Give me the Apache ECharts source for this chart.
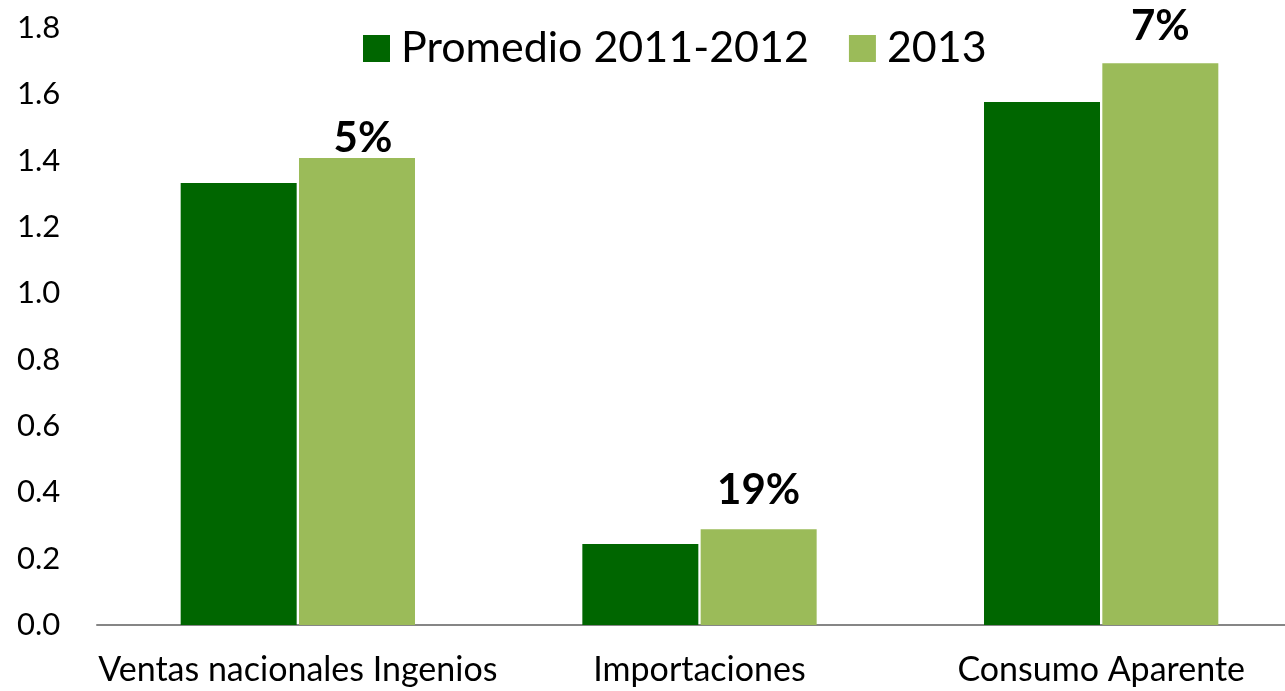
<!DOCTYPE html>
<html>
<head>
<meta charset="utf-8">
<script src="https://cdn.jsdelivr.net/npm/echarts@6/dist/echarts.min.js"></script>
<style>
  html, body { margin: 0; padding: 0; background: #fff; }
  #chart { width: 1285px; height: 691px; }
</style>
</head>
<body>
<div id="chart"></div>
<script>
// categorias y valores (millones de toneladas)
var categorias = ["Ventas nacionales Ingenios", "Importaciones", "Consumo Aparente"];
var promedio = [1.333, 0.244, 1.577];
var anio2013 = [1.408, 0.289, 1.694];
var variacion = ["5%", "19%", "7%"];
var yTicks = [0, 0.2, 0.4, 0.6, 0.8, 1.0, 1.2, 1.4, 1.6, 1.8];

var fuente = "Lato";
// distancia de la etiqueta sobre la barra
var labelDist = [-1, 18, 16];
var labelOffX = [6, 0, 0];

var datos2013 = anio2013.map(function (v, i) {
  return {
    value: v,
    label: {
      distance: labelDist[i],
      offset: [labelOffX[i], 0],
      formatter: variacion[i]
    }
  };
});

var myChart = echarts.init(document.getElementById("chart"));
myChart.setOption({
  animation: false,
  textStyle: { fontFamily: fuente },
  legend: {
    data: ["Promedio 2011-2012", "2013"],
    left: 358,
    top: 22,
    itemWidth: 27,
    itemHeight: 27,
    itemGap: 40,
    icon: "rect",
    textStyle: {
      fontFamily: fuente,
      fontSize: 43,
      color: "#000",
      padding: [0, 0, 0, 6]
    }
  },
  grid: {
    left: 97,
    right: -17,
    top: 28,
    bottom: 66,
    containLabel: false,
    outerBoundsMode: "none"
  },
  xAxis: {
    type: "category",
    data: categorias,
    axisLine: { lineStyle: { color: "#868686", width: 2 } },
    axisTick: { show: false },
    axisLabel: {
      interval: 0,
      fontFamily: fuente,
      fontSize: 34,
      color: "#000",
      margin: 28
    }
  },
  yAxis: {
    type: "value",
    min: yTicks[0],
    max: yTicks[yTicks.length - 1],
    interval: 0.2,
    axisLine: { show: false },
    axisTick: { show: false },
    splitLine: { show: false },
    axisLabel: {
      fontFamily: fuente,
      fontSize: 31,
      color: "#000",
      align: "left",
      margin: 80,
      formatter: function (v) { return v.toFixed(1); }
    }
  },
  series: [
    {
      name: "Promedio 2011-2012",
      type: "bar",
      barWidth: 116,
      barGap: "2%",
      itemStyle: { color: "#006600" },
      data: promedio
    },
    {
      name: "2013",
      type: "bar",
      barWidth: 116,
      barGap: "2%",
      itemStyle: { color: "#9BBB59" },
      label: {
        show: true,
        position: "top",
        fontFamily: fuente,
        fontSize: 42,
        fontWeight: "bold",
        color: "#000"
      },
      data: datos2013
    }
  ]
});
</script>
</body>
</html>
